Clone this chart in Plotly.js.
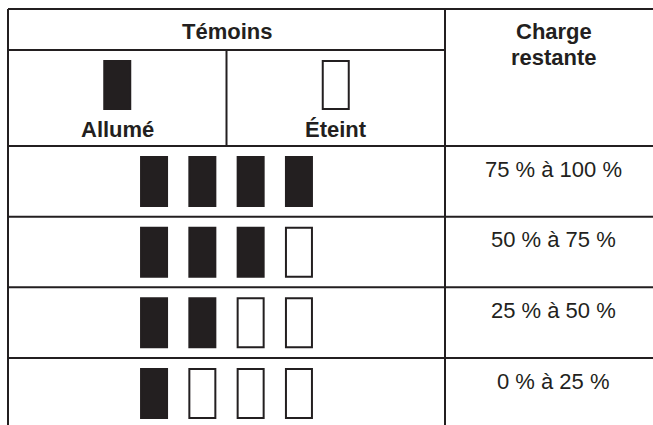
<!DOCTYPE html>
<html>
<head>
<meta charset="utf-8">
<script src="https://cdn.plot.ly/plotly-3.0.1.min.js"></script>
<style>
  html, body { margin: 0; padding: 0; background: #ffffff; }
  #chart { width: 653px; height: 425px; }
</style>
</head>
<body>
<div id="chart"></div>
<script>
// ---- Data ----
const groupHeader = 'Témoins';
const litLabel = 'Allumé';
const offLabel = 'Éteint';
const chargeHeader = ['Charge', 'restante'];
const chargeLevels = ['75 % à 100 %', '50 % à 75 %', '25 % à 50 %', '0 % à 25 %'];
const litCounts = [4, 3, 2, 1];
const slotsPerRow = 4;

// ---- Layout constants (pixel-like axis units) ----
const INK = '#231f20';
const FONT = 'Liberation Sans, Arial, sans-serif';
const FS = 22;
const tableLeft = 8, tableTop = 9, colSplit = 445, tableRight = 662, viewBottom = 440;
const headRow1Bottom = 50, headRow2Bottom = 146, rowH = 70.67;
const subSplit = (tableLeft + colSplit) / 2;
const slotStep = 48.3, rectW = 26, rectH = 49, rectOffset = 11;
const chargeCenter = (colSplit + tableRight) / 2;

// ---- Indicator bars ----
const xs = [], bases = [], hs = [], fills = [];
litCounts.forEach((n, r) => {
  const top = headRow2Bottom + r * rowH + rectOffset;
  for (let i = 0; i < slotsPerRow; i++) {
    xs.push(subSplit + (i - (slotsPerRow - 1) / 2) * slotStep);
    bases.push(top);
    hs.push(rectH);
    fills.push(i < n ? INK : '#ffffff');
  }
});
// header legend icons
const legendX = [(tableLeft + subSplit) / 2, (subSplit + colSplit) / 2];
const legendFill = [INK, '#ffffff'];

const traces = [
  {
    type: 'bar', x: xs, y: hs, base: bases, width: rectW,
    marker: { color: fills, line: { color: INK, width: 2 } },
    hoverinfo: 'skip', showlegend: false
  },
  {
    type: 'bar', x: legendX, y: [48, 48], base: [61, 61], width: rectW,
    marker: { color: legendFill, line: { color: INK, width: 2 } },
    hoverinfo: 'skip', showlegend: false
  }
];

// ---- Grid lines ----
const line = (x0, y0, x1, y1) => ({ type: 'line', xref: 'x', yref: 'y', x0, y0, x1, y1,
  line: { color: INK, width: 2 }, layer: 'above' });
const shapes = [
  line(tableLeft, tableTop, tableRight, tableTop),
  line(tableLeft, tableTop, tableLeft, viewBottom),
  line(colSplit, tableTop, colSplit, viewBottom),
  line(tableLeft, headRow1Bottom, colSplit, headRow1Bottom),
  line(subSplit, headRow1Bottom, subSplit, headRow2Bottom),
  line(tableLeft, headRow2Bottom, tableRight, headRow2Bottom)
];
for (let r = 1; r < chargeLevels.length; r++) {
  const y = headRow2Bottom + r * rowH;
  shapes.push(line(tableLeft, y, tableRight, y));
}

// ---- Texts ----
const ann = (text, x, y, bold) => ({
  text: bold ? '<b>' + text + '</b>' : text, x, y, xref: 'x', yref: 'y',
  showarrow: false, xanchor: 'center', yanchor: 'middle',
  font: { family: FONT, size: FS, color: INK }
});
const annotations = [
  ann(groupHeader, subSplit, 31, true),
  ann(litLabel, legendX[0], 129, true),
  ann(offLabel, legendX[1], 129, true),
  ann(chargeHeader[0], chargeCenter, 31, true),
  ann(chargeHeader[1], chargeCenter, 57, true)
];
chargeLevels.forEach((t, r) => {
  annotations.push(ann(t, chargeCenter, headRow2Bottom + r * rowH + 23, false));
});

const layout = {
  width: 653, height: 425,
  margin: { l: 0, r: 0, t: 0, b: 0 },
  paper_bgcolor: '#ffffff', plot_bgcolor: '#ffffff',
  barmode: 'overlay',
  xaxis: { range: [0, 653], visible: false, fixedrange: true },
  yaxis: { range: [425, 0], visible: false, fixedrange: true },
  shapes, annotations, showlegend: false
};

Plotly.newPlot('chart', traces, layout, { staticPlot: true, displayModeBar: false });
</script>
</body>
</html>
